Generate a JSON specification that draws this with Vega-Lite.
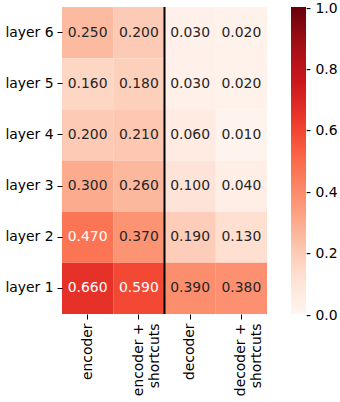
{
  "$schema": "https://vega.github.io/schema/vega-lite/v6.json",
  "autosize": {"type": "none"},
  "padding": {"left": 62, "top": 7, "right": 73, "bottom": 88},
  "width": 205,
  "height": 307,
  "background": "white",
  "config": {
    "view": {"stroke": null},
    "font": "DejaVu Sans",
    "axis": {"labelFont": "DejaVu Sans", "labelFontSize": 13.9, "labelColor": "#000", "tickColor": "#000", "tickSize": 5, "tickWidth": 1, "domain": false, "grid": false, "title": null, "labelPadding": 4},
    "legend": {"labelFont": "DejaVu Sans", "labelFontSize": 13.9, "labelColor": "#000"}
  },
  "data": {"values": [
    {"layer": "layer 6", "col": "encoder", "value": 0.25},
    {"layer": "layer 6", "col": "encoder + shortcuts", "value": 0.20},
    {"layer": "layer 6", "col": "decoder", "value": 0.03},
    {"layer": "layer 6", "col": "decoder + shortcuts", "value": 0.02},
    {"layer": "layer 5", "col": "encoder", "value": 0.16},
    {"layer": "layer 5", "col": "encoder + shortcuts", "value": 0.18},
    {"layer": "layer 5", "col": "decoder", "value": 0.03},
    {"layer": "layer 5", "col": "decoder + shortcuts", "value": 0.02},
    {"layer": "layer 4", "col": "encoder", "value": 0.20},
    {"layer": "layer 4", "col": "encoder + shortcuts", "value": 0.21},
    {"layer": "layer 4", "col": "decoder", "value": 0.06},
    {"layer": "layer 4", "col": "decoder + shortcuts", "value": 0.01},
    {"layer": "layer 3", "col": "encoder", "value": 0.30},
    {"layer": "layer 3", "col": "encoder + shortcuts", "value": 0.26},
    {"layer": "layer 3", "col": "decoder", "value": 0.10},
    {"layer": "layer 3", "col": "decoder + shortcuts", "value": 0.04},
    {"layer": "layer 2", "col": "encoder", "value": 0.47},
    {"layer": "layer 2", "col": "encoder + shortcuts", "value": 0.37},
    {"layer": "layer 2", "col": "decoder", "value": 0.19},
    {"layer": "layer 2", "col": "decoder + shortcuts", "value": 0.13},
    {"layer": "layer 1", "col": "encoder", "value": 0.66},
    {"layer": "layer 1", "col": "encoder + shortcuts", "value": 0.59},
    {"layer": "layer 1", "col": "decoder", "value": 0.39},
    {"layer": "layer 1", "col": "decoder + shortcuts", "value": 0.38}
  ]},
  "encoding": {
    "x": {"field": "col", "type": "nominal", "sort": ["encoder", "encoder + shortcuts", "decoder", "decoder + shortcuts"],
      "scale": {"paddingInner": 0, "paddingOuter": 0},
      "axis": {"labelAngle": -90, "labelLineHeight": 16, "labelExpr": "datum.value == 'encoder + shortcuts' ? ['encoder +', 'shortcuts'] : datum.value == 'decoder + shortcuts' ? ['decoder +', 'shortcuts'] : datum.label"}},
    "y": {"field": "layer", "type": "nominal", "sort": ["layer 6", "layer 5", "layer 4", "layer 3", "layer 2", "layer 1"],
      "scale": {"paddingInner": 0, "paddingOuter": 0}}
  },
  "layer": [
    {
      "mark": {"type": "rect"},
      "encoding": {
        "color": {"field": "value", "type": "quantitative",
          "scale": {"domain": [0, 0.125, 0.25, 0.375, 0.5, 0.625, 0.75, 0.875, 1], "range": ["#fff5f0", "#fee0d2", "#fcbba1", "#fc9272", "#fb6a4a", "#ef3b2c", "#cb181d", "#a50f15", "#67000d"], "interpolate": "rgb"},
          "legend": {"title": null, "orient": "right", "offset": 24, "padding": 0, "direction": "vertical", "gradientLength": 307, "gradientThickness": 15, "values": [0, 0.2, 0.4, 0.6, 0.8, 1.0], "format": ".1f", "labelExpr": "'- ' + datum.label", "labelOffset": 0, "gradientStrokeWidth": 0,
            "encode": {"labels": {"update": {"baseline": {"value": "middle"}, "dy": {"value": 1.5}}}}}}
      }
    },
    {
      "mark": {"type": "text", "font": "DejaVu Sans", "fontSize": 13.9},
      "encoding": {
        "text": {"field": "value", "type": "quantitative", "format": ".3f"},
        "color": {"condition": {"test": "datum.value > 0.45", "value": "white"}, "value": "#262626"}
      }
    },
    {
      "data": {"values": [{"col": "decoder"}]},
      "mark": {"type": "rule", "color": "black", "strokeWidth": 2},
      "encoding": {
        "x": {"field": "col", "type": "nominal", "bandPosition": 0},
        "y": null
      }
    }
  ]
}
